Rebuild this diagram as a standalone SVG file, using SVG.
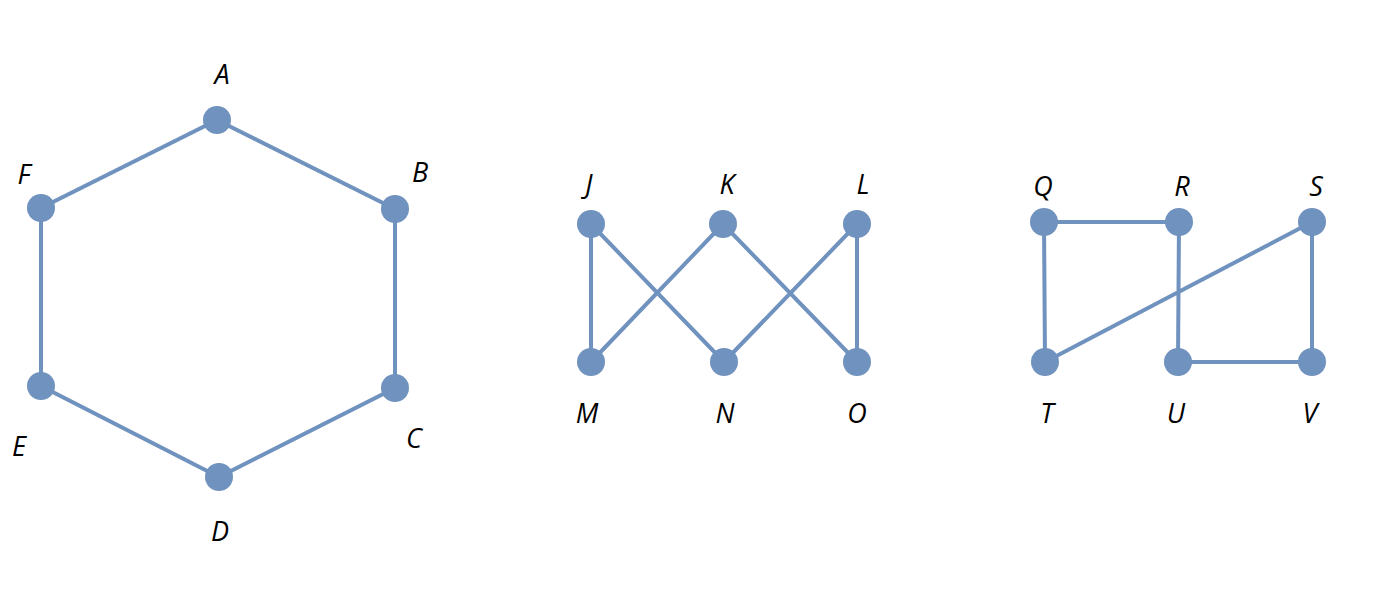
<svg xmlns="http://www.w3.org/2000/svg" width="1380" height="600" viewBox="0 0 1380 600">
<style>
.e{stroke:#7092be;stroke-width:4;fill:none}
.n{fill:#7092be}
.t{font-family:"Open Sans","DejaVu Sans",sans-serif;font-style:italic;font-size:27px;fill:#000;text-anchor:middle}
</style>
<rect width="1380" height="600" fill="#fff"/>
<g id="connectors">
<path class="e" d="M217,120L395,209L395,388L219,477L41,386L41,208Z"/>
<path class="e" d="M591,224L591,362M591,224L724,362M723,224L591,362M723,224L857,362M857,224L724,362M857,224L857,362"/>
<path class="e" d="M1044,222L1179,222M1044,222L1045,362M1179,222L1178,362M1178,362L1312,362M1312,222L1312,362M1045,362L1312,222"/>
</g>
<g id="A"><circle class="n" cx="217" cy="120" r="14"/><text class="t" x="222" y="84">A</text></g>
<g id="B"><circle class="n" cx="395" cy="209" r="14"/><text class="t" x="420" y="182">B</text></g>
<g id="C"><circle class="n" cx="395" cy="388" r="14"/><text class="t" x="414" y="448">C</text></g>
<g id="D"><circle class="n" cx="219" cy="477" r="14"/><text class="t" x="220" y="541">D</text></g>
<g id="E"><circle class="n" cx="41" cy="386" r="14"/><text class="t" x="19" y="456">E</text></g>
<g id="F"><circle class="n" cx="41" cy="208" r="14"/><text class="t" x="24" y="184">F</text></g>
<g id="J"><circle class="n" cx="591" cy="224" r="14"/><text class="t" x="589" y="194">J</text></g>
<g id="K"><circle class="n" cx="723" cy="224" r="14"/><text class="t" x="727" y="194">K</text></g>
<g id="L"><circle class="n" cx="857" cy="224" r="14"/><text class="t" x="863" y="194">L</text></g>
<g id="M"><circle class="n" cx="591" cy="362" r="14"/><text class="t" x="587" y="423">M</text></g>
<g id="N"><circle class="n" cx="724" cy="362" r="14"/><text class="t" x="725" y="423">N</text></g>
<g id="O"><circle class="n" cx="857" cy="362" r="14"/><text class="t" x="857" y="423">O</text></g>
<g id="Q"><circle class="n" cx="1044" cy="222" r="14"/><text class="t" x="1043" y="196">Q</text></g>
<g id="R"><circle class="n" cx="1179" cy="222" r="14"/><text class="t" x="1182" y="196">R</text></g>
<g id="S"><circle class="n" cx="1312" cy="222" r="14"/><text class="t" x="1316" y="196">S</text></g>
<g id="T"><circle class="n" cx="1045" cy="362" r="14"/><text class="t" x="1047" y="423">T</text></g>
<g id="U"><circle class="n" cx="1178" cy="362" r="14"/><text class="t" x="1176" y="423">U</text></g>
<g id="V"><circle class="n" cx="1312" cy="362" r="14"/><text class="t" x="1310" y="423">V</text></g>
</svg>
